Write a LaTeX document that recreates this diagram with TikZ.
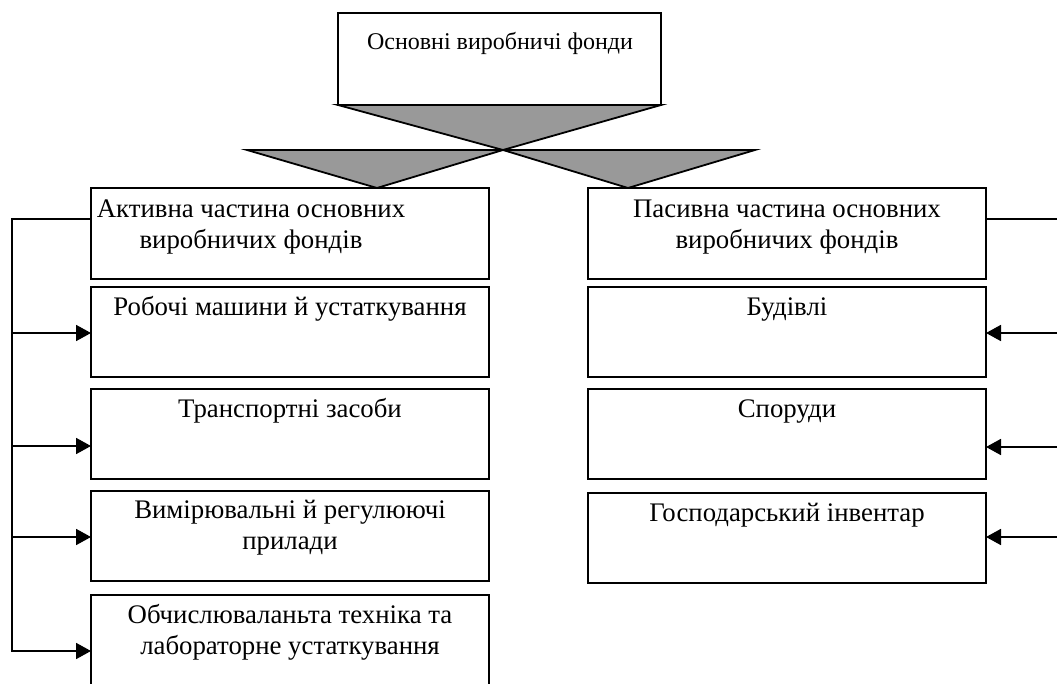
\documentclass[tikz,border=0pt]{standalone}
\usepackage{fontspec}
\setmainfont{Liberation Serif}
\usetikzlibrary{arrows.meta}
\definecolor{trigray}{RGB}{153,153,153}
\tikzset{
  box/.style={draw, line width=2pt, inner sep=0pt, outer sep=0pt, anchor=north west},
  txt/.style={font=\fontsize{26.8}{31}\selectfont, align=center, inner sep=0pt, anchor=north},
  toptxt/.style={font=\fontsize{24}{27}\selectfont, align=center, inner sep=0pt, anchor=north},
  conn/.style={line width=1.8pt},
  arr/.style={line width=1.8pt, -{Triangle[length=15pt,width=16pt]}},
  tri/.style={draw, line width=1.8pt, fill=trigray, line join=miter}
}
\begin{document}
\begin{tikzpicture}[x=1pt,y=-1pt]
\useasboundingbox (0,0) rectangle (1057,684);
\clip (0,0) rectangle (1057,684);
\fill[white] (0,0) rectangle (1057,684);
% boxes
\node[box, minimum width=323pt, minimum height=92pt] (top) at (338,13) {};
\node[box, minimum width=398pt, minimum height=91pt] (act) at (91,188) {};
\node[box, minimum width=398pt, minimum height=90pt] (rob) at (91,287) {};
\node[box, minimum width=398pt, minimum height=90pt] (tra) at (91,389) {};
\node[box, minimum width=398pt, minimum height=90pt] (vym) at (91,491) {};
\node[box, minimum width=398pt, minimum height=100pt] (obc) at (91,595) {};
\node[box, minimum width=398pt, minimum height=91pt] (pas) at (588,188) {};
\node[box, minimum width=398pt, minimum height=90pt] (bud) at (588,287) {};
\node[box, minimum width=398pt, minimum height=90pt] (spo) at (588,389) {};
\node[box, minimum width=398pt, minimum height=90pt] (hos) at (588,493) {};
% triangles
\coordinate (apex) at (503,150);
\coordinate (wl) at (247,150);
\coordinate (wr) at (755,150);
\coordinate (al) at (377,188);
\coordinate (ar) at (628,188);
\draw[tri] (top.south west) -- (top.south east) -- (apex) -- cycle;
\draw[tri] (wl) -- (apex) -- (al) -- cycle;
\draw[tri] (apex) -- (wr) -- (ar) -- cycle;
\draw[line width=2pt] (act.north west) -- (act.north east);
\draw[line width=2pt] (pas.north west) -- (pas.north east);
% texts
\node[toptxt] (ttop) at (500,30.1) {\strut Основні виробничі фонди};
\node[txt] (tact) at (251,195.3) {\strut Активна частина основних\\виробничих фондів};
\node[txt] (tpas) at (787,195.3) {\strut Пасивна частина основних\\виробничих фондів};
\node[txt] (trob) at (290,293.3) {\strut Робочі машини й устаткування};
\node[txt] (tbud) at (787,293.3) {\strut Будівлі};
\node[txt] (ttra) at (290,395.3) {\strut Транспортні засоби};
\node[txt] (tspo) at (787,395.3) {\strut Споруди};
\node[txt] (tvym) at (290,496.8) {\strut Вимірювальні й регулюючі\\прилади};
\node[txt] (thos) at (787,499.3) {\strut Господарський інвентар};
\node[txt] (tobc) at (290,601.3) {\strut Обчислюваланьта техніка та\\лабораторне устаткування};
% left connectors
\coordinate (lt) at (12,219);
\coordinate (l1) at (12,333);
\coordinate (l2) at (12,446);
\coordinate (l3) at (12,537);
\coordinate (lb) at (12,651);
\draw[arr] (act.west |- lt) -- (lt) -- (lb) -- (lb -| obc.west);
\draw[arr] (l1) -- (l1 -| rob.west);
\draw[arr] (l2) -- (l2 -| tra.west);
\draw[arr] (l3) -- (l3 -| vym.west);
% right connectors
\coordinate (r0) at (1062,219);
\coordinate (r1) at (1062,333);
\coordinate (r2) at (1062,447);
\coordinate (r3) at (1062,537);
\draw[conn] (pas.east |- r0) -- (r0);
\draw[arr] (r1) -- (r1 -| bud.east);
\draw[arr] (r2) -- (r2 -| spo.east);
\draw[arr] (r3) -- (r3 -| hos.east);
\end{tikzpicture}
\end{document}
